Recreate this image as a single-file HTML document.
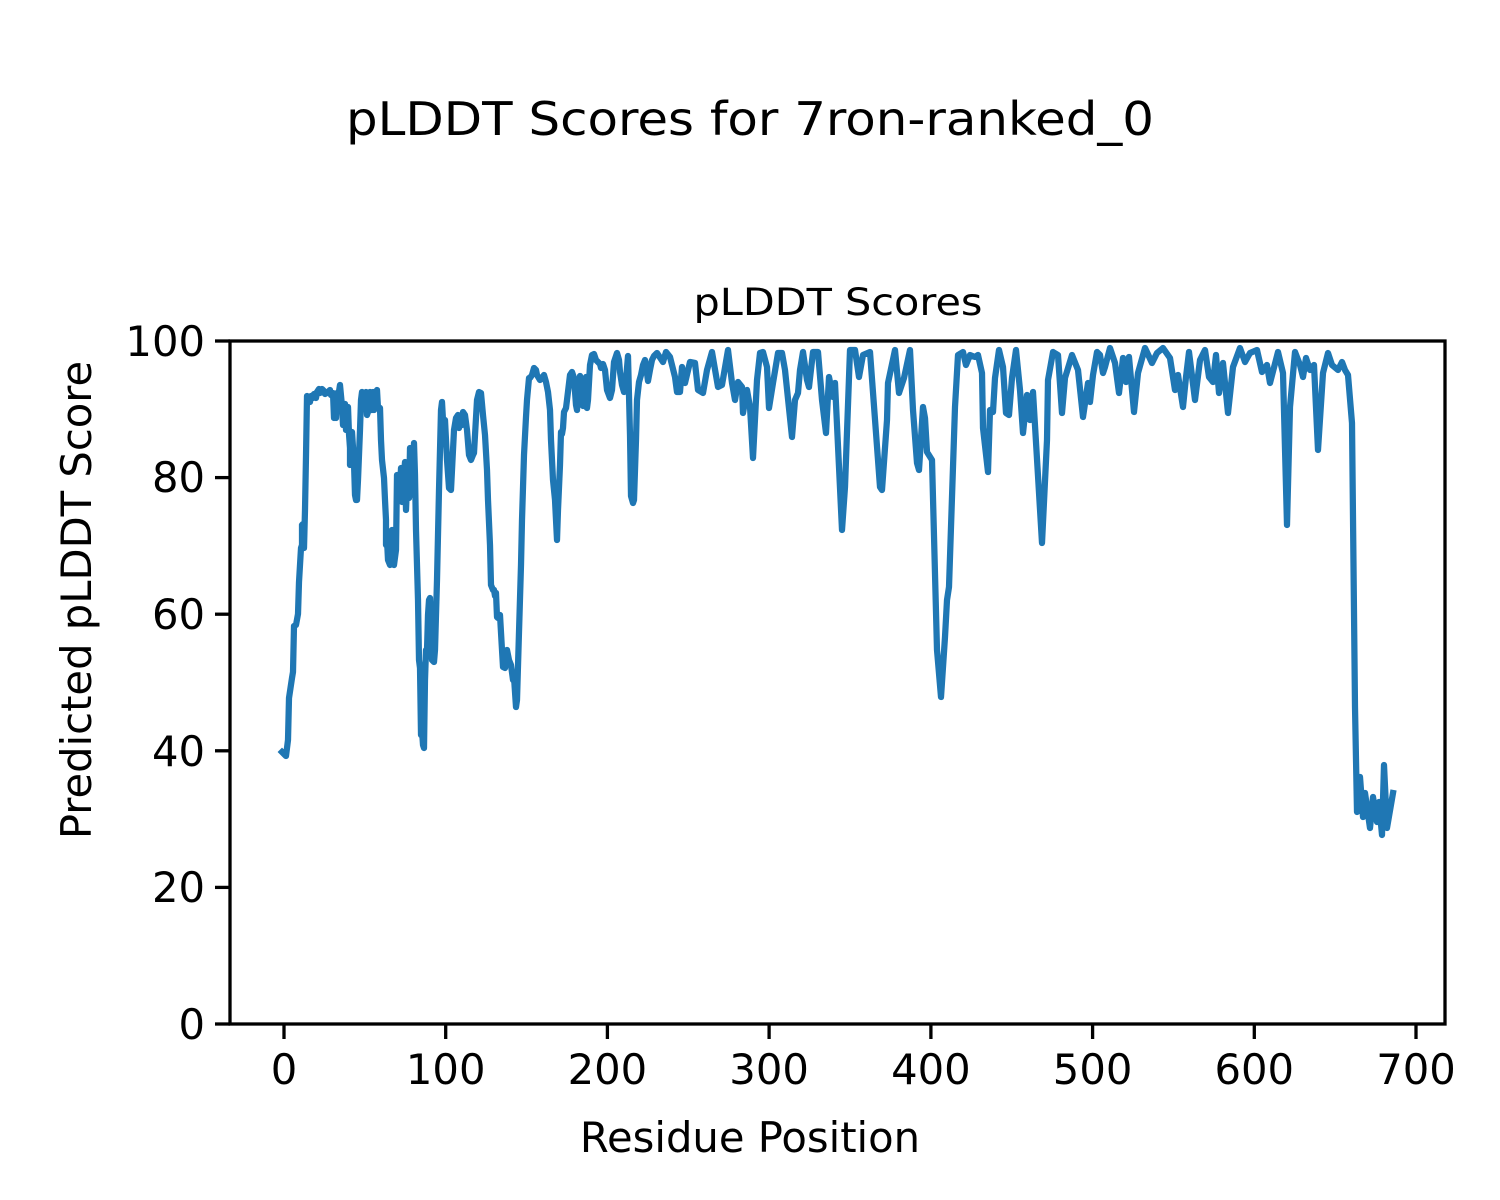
<!DOCTYPE html>
<html><head><meta charset="utf-8"><style>body{margin:0;background:#fff}svg{display:block}</style></head><body>
<svg width="1500" height="1200" viewBox="0 0 1500 1200" xmlns="http://www.w3.org/2000/svg" font-family="DejaVu Sans, Liberation Sans, sans-serif">
<rect width="1500" height="1200" fill="#fff"/>
<text x="750" y="135" font-size="46" text-anchor="middle" textLength="808" lengthAdjust="spacingAndGlyphs">pLDDT Scores for 7ron-ranked_0</text>
<text x="838" y="315" font-size="37" text-anchor="middle" textLength="289" lengthAdjust="spacingAndGlyphs">pLDDT Scores</text>
<polyline fill="none" stroke="#1f77b4" stroke-width="6.25" stroke-linejoin="round" stroke-linecap="square" points="282,752 286,756 288,740 289,698 292,678 293,672 294,626 296,625 298,614 299,582 301,548 302,545 302,525 303,524 304,548 305,510 306,456 307,396 309,400 310,402 311,396 313,398 314,394 316,398 317,392 319,389 320,393 322,389 324,391 325,394 327,393 328,392 330,390 331,395 333,393 334,418 335,397 336,418 337,393 338,398 340,385 342,406 343,425 344,410 345,404 346,430 348,407 349,434 350,448 350,465 352,440 352,432 354,463 355,495 356,500 357,500 358,480 360,430 361,400 362,392 364,400 366,392 367,415 368,412 370,392 372,410 373,392 374,410 375,399 377,390 378,408 380,408 381,440 382,460 384,478 385,500 386,520 386,545 387,540 388,560 390,565 390,540 392,530 393,560 394,565 396,550 397,475 399,475 400,490 401,468 402,502 403,468 404,475 405,462 406,510 408,462 409,498 410,448 411,495 413,480 414,443 415,475 416,530 418,600 419,660 420,668 421,735 422,730 423,745 424,748 425,680 426,650 427,650 428,615 429,600 430,598 431,630 432,660 434,662 435,650 437,580 439,490 441,410 442,402 443,420 445,420 447,460 449,488 451,490 453,450 454,430 456,418 458,415 459,428 461,418 462,425 463,412 465,415 467,430 469,455 471,460 473,455 474,453 477,400 479,392 481,393 483,415 485,435 487,470 488,500 490,545 491,585 493,590 494,590 495,596 496,593 497,617 498,618 500,615 502,650 503,667 505,668 507,650 509,660 511,665 513,680 514,677 516,707 517,700 519,632 521,565 522,520 524,455 526,417 527,400 529,378 530,378 532,375 534,368 536,370 537,375 540,380 542,378 544,375 546,382 548,392 550,410 551,440 553,480 555,500 557,540 558,510 560,465 561,432 562,434 563,428 564,412 566,408 567,400 570,375 572,372 574,378 576,405 577,410 578,395 580,376 583,406 584,392 586,377 587,408 588,400 590,365 592,355 594,354 596,360 598,362 600,364 601,368 603,364 605,370 607,390 610,398 612,390 614,362 617,353 619,360 620,372 622,385 624,392 626,380 628,356 630,435 631,496 633,503 634,500 636,440 637,400 639,382 641,375 643,365 645,360 646,365 648,381 650,370 652,360 654,356 657,353 663,362 666,352 670,357 675,377 677,392 680,392 682,367 685,383 690,362 695,363 698,390 703,393 707,370 712,352 718,387 722,385 728,350 732,383 735,400 738,382 742,387 743,413 747,390 750,407 753,458 757,380 760,353 763,352 767,367 769,408 773,383 778,353 782,353 785,370 792,437 795,400 798,393 800,370 803,352 807,380 809,387 813,352 818,352 822,400 826,433 829,377 833,397 835,383 842,530 845,487 850,350 855,350 859,377 863,355 870,352 880,487 882,490 887,420 888,383 895,350 899,393 904,378 910,350 913,410 917,463 919,470 923,407 925,418 927,452 932,460 937,650 941,697 945,637 947,600 949,587 955,407 958,355 963,352 966,365 970,355 975,357 978,355 982,373 983,428 988,472 990,410 993,412 995,378 999,350 1003,367 1006,413 1009,415 1012,378 1016,350 1020,390 1023,433 1027,395 1030,420 1033,392 1042,543 1047,440 1048,380 1053,352 1058,355 1062,413 1065,378 1072,355 1078,370 1083,417 1088,383 1090,402 1093,375 1097,352 1100,355 1103,373 1105,367 1110,348 1115,363 1119,393 1123,358 1126,382 1129,357 1134,412 1138,373 1145,348 1152,363 1157,353 1163,348 1170,358 1175,390 1178,375 1183,407 1186,377 1189,352 1195,400 1200,360 1205,350 1209,377 1213,382 1216,355 1219,393 1223,363 1228,413 1233,367 1240,348 1245,362 1250,353 1257,350 1262,372 1267,365 1270,383 1278,352 1283,373 1287,525 1290,407 1295,352 1300,365 1303,377 1306,358 1310,370 1314,365 1318,450 1323,373 1328,353 1332,365 1338,370 1342,362 1345,370 1348,375 1352,423 1355,707 1357,812 1360,777 1363,817 1365,793 1370,828 1373,797 1377,822 1379,802 1382,835 1384,765 1387,828 1393,793"/>
<rect x="230" y="341" width="1215" height="683" fill="none" stroke="#000" stroke-width="3.3"/>
<g stroke="#000" stroke-width="3.3">
<line x1="284" y1="1024" x2="284" y2="1039"/><line x1="445.7" y1="1024" x2="445.7" y2="1039"/><line x1="607.4" y1="1024" x2="607.4" y2="1039"/><line x1="769.1" y1="1024" x2="769.1" y2="1039"/><line x1="930.9" y1="1024" x2="930.9" y2="1039"/><line x1="1092.6" y1="1024" x2="1092.6" y2="1039"/><line x1="1254.3" y1="1024" x2="1254.3" y2="1039"/><line x1="1416" y1="1024" x2="1416" y2="1039"/>
<line x1="215" y1="1024" x2="230" y2="1024"/><line x1="215" y1="887.4" x2="230" y2="887.4"/><line x1="215" y1="750.8" x2="230" y2="750.8"/><line x1="215" y1="614.2" x2="230" y2="614.2"/><line x1="215" y1="477.6" x2="230" y2="477.6"/><line x1="215" y1="341" x2="230" y2="341"/>
</g>
<g font-size="41.7" text-anchor="middle">
<text x="284" y="1084">0</text><text x="445.7" y="1084">100</text><text x="607.4" y="1084">200</text><text x="769.1" y="1084">300</text><text x="930.9" y="1084">400</text><text x="1092.6" y="1084">500</text><text x="1254.3" y="1084">600</text><text x="1416" y="1084">700</text>
</g>
<g font-size="41.7" text-anchor="end">
<text x="205" y="1039">0</text><text x="205" y="902">20</text><text x="205" y="766">40</text><text x="205" y="629">60</text><text x="205" y="492">80</text><text x="205" y="356">100</text>
</g>
<text x="750" y="1152" font-size="41.7" text-anchor="middle">Residue Position</text>
<text transform="translate(91,600) rotate(-90)" font-size="41.7" text-anchor="middle">Predicted pLDDT Score</text>
</svg>
</body></html>
